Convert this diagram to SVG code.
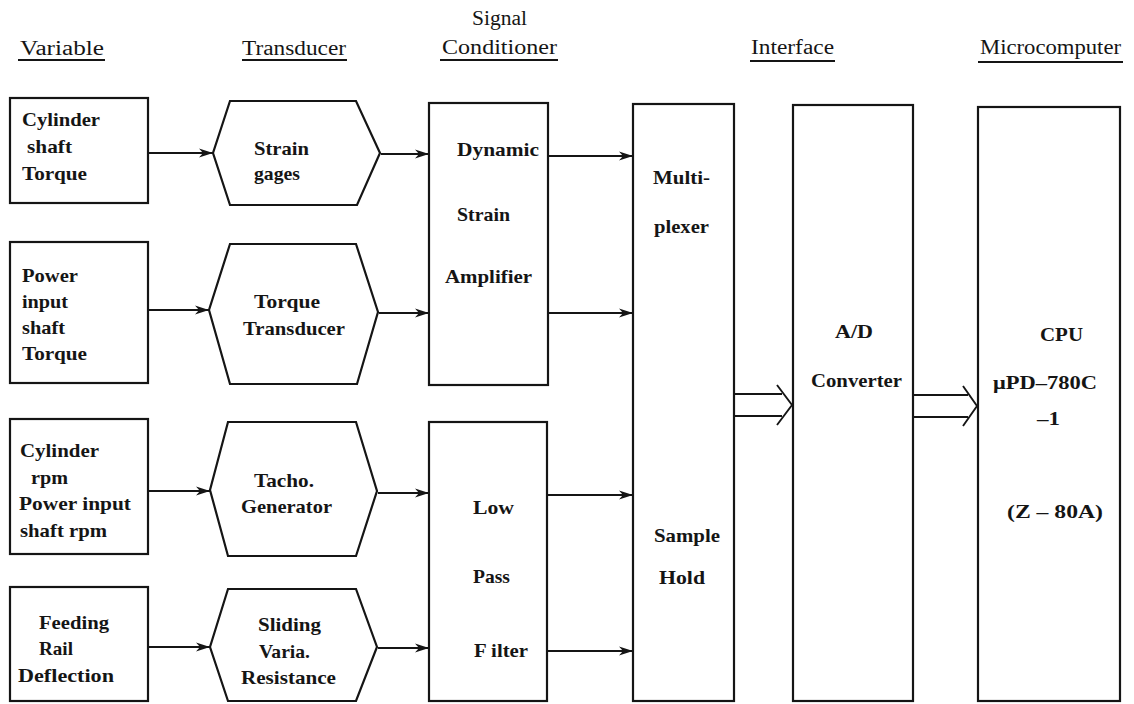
<svg xmlns="http://www.w3.org/2000/svg" width="1134" height="704" viewBox="0 0 1134 704">
<style>
  .bg{fill:#fff}
  .box{fill:none;stroke:#151515;stroke-width:2.2;stroke-linejoin:miter}
  .ln{fill:none;stroke:#151515;stroke-width:1.9}
  .t{font-family:"Liberation Serif","Times New Roman",serif;font-size:19.5px;font-weight:bold;fill:#151515}
  .h{font-family:"Liberation Serif","Times New Roman",serif;font-size:20px;fill:#151515}
  .ul{stroke:#151515;stroke-width:1.9}
</style>
<defs>
  <marker id="ah" markerUnits="userSpaceOnUse" markerWidth="16" markerHeight="10" refX="14" refY="5" orient="auto">
    <path d="M0,0.5 L14,5 L0,9.5 L4,5 Z" fill="#151515"/>
  </marker>
</defs>
<rect class="bg" x="0" y="0" width="1134" height="704"/>

<g id="headers">
  <text class="h" x="20" y="55" textLength="84" lengthAdjust="spacingAndGlyphs">Variable</text>
  <line class="ul" x1="18" y1="60" x2="105" y2="60"/>
  <text class="h" x="242" y="55" textLength="104" lengthAdjust="spacingAndGlyphs">Transducer</text>
  <line class="ul" x1="242" y1="60" x2="347" y2="60"/>
  <text class="h" x="472" y="25" textLength="55" lengthAdjust="spacingAndGlyphs">Signal</text>
  <text class="h" x="442" y="54" textLength="115" lengthAdjust="spacingAndGlyphs">Conditioner</text>
  <line class="ul" x1="440" y1="60" x2="558" y2="60"/>
  <text class="h" x="751" y="54" textLength="83" lengthAdjust="spacingAndGlyphs">Interface</text>
  <line class="ul" x1="750" y1="61" x2="835" y2="61"/>
  <text class="h" x="980" y="54" textLength="141" lengthAdjust="spacingAndGlyphs">Microcomputer</text>
  <line class="ul" x1="978" y1="62" x2="1123" y2="62"/>
</g>

<g id="var1">
  <rect class="box" x="10" y="98" width="138" height="105"/>
  <text class="t" x="22" y="126" textLength="78" lengthAdjust="spacingAndGlyphs">Cylinder</text>
  <text class="t" x="27" y="153" textLength="45" lengthAdjust="spacingAndGlyphs">shaft</text>
  <text class="t" x="22" y="180" textLength="65" lengthAdjust="spacingAndGlyphs">Torque</text>
</g>
<g id="var2">
  <rect class="box" x="10" y="242" width="138" height="141"/>
  <text class="t" x="22" y="282" textLength="56" lengthAdjust="spacingAndGlyphs">Power</text>
  <text class="t" x="22" y="308" textLength="46" lengthAdjust="spacingAndGlyphs">input</text>
  <text class="t" x="22" y="334" textLength="43" lengthAdjust="spacingAndGlyphs">shaft</text>
  <text class="t" x="22" y="360" textLength="65" lengthAdjust="spacingAndGlyphs">Torque</text>
</g>
<g id="var3">
  <rect class="box" x="10" y="419" width="138" height="135"/>
  <text class="t" x="20" y="457" textLength="79" lengthAdjust="spacingAndGlyphs">Cylinder</text>
  <text class="t" x="31" y="484" textLength="37" lengthAdjust="spacingAndGlyphs">rpm</text>
  <text class="t" x="19" y="510" textLength="112" lengthAdjust="spacingAndGlyphs">Power input</text>
  <text class="t" x="20" y="537" textLength="87" lengthAdjust="spacingAndGlyphs">shaft rpm</text>
</g>
<g id="var4">
  <rect class="box" x="10" y="587" width="138" height="114"/>
  <text class="t" x="39" y="629" textLength="70" lengthAdjust="spacingAndGlyphs">Feeding</text>
  <text class="t" x="39" y="655" textLength="34" lengthAdjust="spacingAndGlyphs">Rail</text>
  <text class="t" x="18" y="682" textLength="96" lengthAdjust="spacingAndGlyphs">Deflection</text>
</g>

<g id="trans1">
  <polygon class="box" points="230,101 356,101 380,153 357,205 230,205 213,153"/>
  <text class="t" x="254" y="155" textLength="55" lengthAdjust="spacingAndGlyphs">Strain</text>
  <text class="t" x="254" y="180" textLength="46" lengthAdjust="spacingAndGlyphs">gages</text>
</g>
<g id="trans2">
  <polygon class="box" points="230,244 356,244 378,312 357,384 230,384 209,310"/>
  <text class="t" x="254" y="308" textLength="66" lengthAdjust="spacingAndGlyphs">Torque</text>
  <text class="t" x="243" y="335" textLength="102" lengthAdjust="spacingAndGlyphs">Transducer</text>
</g>
<g id="trans3">
  <polygon class="box" points="228,422 356,422 377,491 356,556 228,556 210,490"/>
  <text class="t" x="254" y="487" textLength="60" lengthAdjust="spacingAndGlyphs">Tacho.</text>
  <text class="t" x="241" y="513" textLength="91" lengthAdjust="spacingAndGlyphs">Generator</text>
</g>
<g id="trans4">
  <polygon class="box" points="228,589 356,589 377,647 356,701 228,701 210,647"/>
  <text class="t" x="258" y="631" textLength="63" lengthAdjust="spacingAndGlyphs">Sliding</text>
  <text class="t" x="259" y="658" textLength="51" lengthAdjust="spacingAndGlyphs">Varia.</text>
  <text class="t" x="241" y="684" textLength="95" lengthAdjust="spacingAndGlyphs">Resistance</text>
</g>

<g id="cond1">
  <rect class="box" x="429" y="103" width="119" height="282"/>
  <text class="t" x="457" y="156" textLength="82" lengthAdjust="spacingAndGlyphs">Dynamic</text>
  <text class="t" x="457" y="221" textLength="53" lengthAdjust="spacingAndGlyphs">Strain</text>
  <text class="t" x="445" y="283" textLength="87" lengthAdjust="spacingAndGlyphs">Amplifier</text>
</g>
<g id="cond2">
  <rect class="box" x="429" y="422" width="118" height="279"/>
  <text class="t" x="473" y="514" textLength="41" lengthAdjust="spacingAndGlyphs">Low</text>
  <text class="t" x="473" y="583" textLength="37" lengthAdjust="spacingAndGlyphs">Pass</text>
  <text class="t" x="474" y="657" textLength="54" lengthAdjust="spacingAndGlyphs">F ilter</text>
</g>

<g id="mux">
  <rect class="box" x="633" y="104" width="101" height="597"/>
  <text class="t" x="653" y="184" textLength="57" lengthAdjust="spacingAndGlyphs">Multi-</text>
  <text class="t" x="654" y="233" textLength="55" lengthAdjust="spacingAndGlyphs">plexer</text>
  <text class="t" x="654" y="542" textLength="66" lengthAdjust="spacingAndGlyphs">Sample</text>
  <text class="t" x="659" y="584" textLength="46" lengthAdjust="spacingAndGlyphs">Hold</text>
</g>

<g id="adc">
  <rect class="box" x="793" y="105" width="120" height="596"/>
  <text class="t" x="835" y="338" textLength="38" lengthAdjust="spacingAndGlyphs">A/D</text>
  <text class="t" x="811" y="387" textLength="91" lengthAdjust="spacingAndGlyphs">Converter</text>
</g>

<g id="cpu">
  <rect class="box" x="978" y="107" width="142" height="594"/>
  <text class="t" x="1040" y="341" textLength="43" lengthAdjust="spacingAndGlyphs">CPU</text>
  <text class="t" x="993" y="389" textLength="104" lengthAdjust="spacingAndGlyphs">μPD–780C</text>
  <text class="t" x="1037" y="425" textLength="23" lengthAdjust="spacingAndGlyphs">–1</text>
  <text class="t" x="1007" y="518" textLength="96" lengthAdjust="spacingAndGlyphs">(Z – 80A)</text>
</g>

<g id="connectors">
  <line class="ln" x1="148" y1="153" x2="213" y2="153" marker-end="url(#ah)"/>
  <line class="ln" x1="148" y1="310" x2="209" y2="310" marker-end="url(#ah)"/>
  <line class="ln" x1="148" y1="491" x2="210" y2="491" marker-end="url(#ah)"/>
  <line class="ln" x1="148" y1="647" x2="210" y2="647" marker-end="url(#ah)"/>

  <line class="ln" x1="381" y1="154" x2="429" y2="154" marker-end="url(#ah)"/>
  <line class="ln" x1="379" y1="313" x2="429" y2="313" marker-end="url(#ah)"/>
  <line class="ln" x1="378" y1="493" x2="429" y2="493" marker-end="url(#ah)"/>
  <line class="ln" x1="378" y1="648" x2="429" y2="648" marker-end="url(#ah)"/>

  <line class="ln" x1="548" y1="156" x2="633" y2="156" marker-end="url(#ah)"/>
  <line class="ln" x1="548" y1="313" x2="633" y2="313" marker-end="url(#ah)"/>
  <line class="ln" x1="547" y1="495" x2="633" y2="495" marker-end="url(#ah)"/>
  <line class="ln" x1="547" y1="651" x2="633" y2="651" marker-end="url(#ah)"/>

  <path class="ln" d="M734,394 H782 M734,416 H782 M777,385 L792,405 L777,425"/>
  <path class="ln" d="M913,395 H968 M913,417 H968 M963,386 L977,406 L963,426"/>
</g>
</svg>
